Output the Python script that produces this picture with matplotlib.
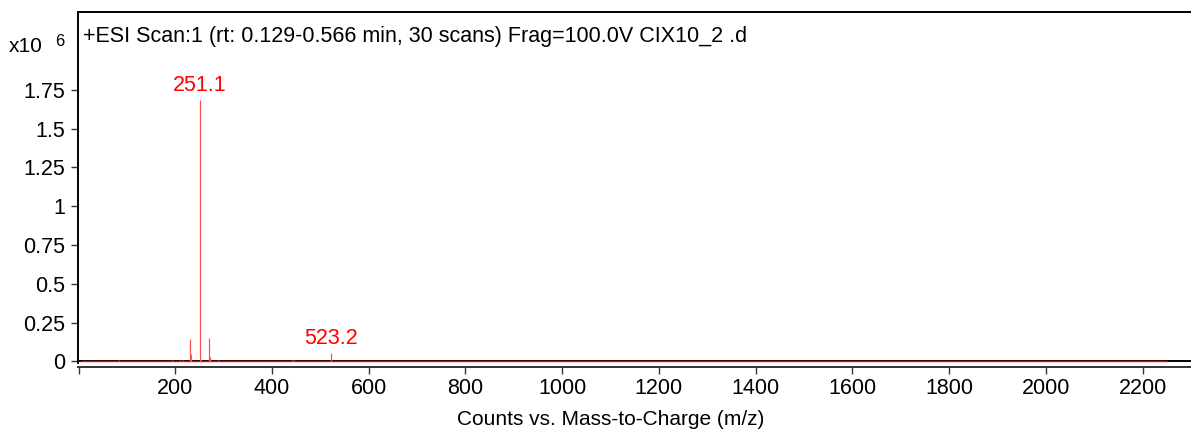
import matplotlib
matplotlib.use("Agg")
import matplotlib.pyplot as plt
from matplotlib.ticker import FixedLocator, FuncFormatter

# ---- data (intensity in units of 10^6 counts) ----
peak_mz = [85, 144, 194, 210, 216, 231, 234, 251.1, 254, 271, 273, 288, 442, 445, 523.2]
peak_int = [0.012, 0.006, 0.012, 0.010, 0.008, 0.142, 0.050, 1.686, 0.012, 0.150, 0.030, 0.010, 0.012, 0.008, 0.054]
label_mz = [251.1, 523.2]
label_text = ["251.1", "523.2"]
baseline_range = [5, 2250]
x_ticks = [200, 400, 600, 800, 1000, 1200, 1400, 1600, 1800, 2000, 2200]
y_ticks = [0, 0.25, 0.5, 0.75, 1.0, 1.25, 1.5, 1.75]
title_text = "+ESI Scan:1 (rt: 0.129-0.566 min, 30 scans) Frag=100.0V CIX10_2 .d"
x_label = "Counts vs. Mass-to-Charge (m/z)"

plt.rcParams['font.family'] = ['Liberation Sans', 'DejaVu Sans']

W, H = 1191, 440
fig = plt.figure(figsize=(W / 100, H / 100), dpi=100)
left, right, top, bottom = 77.7, 1196, 11.7, 363
ax = fig.add_axes([left / W, 1 - bottom / H, (right - left) / W, (bottom - top) / H])

ax.set_xlim(-1, 2310)
ax.set_ylim(-0.01, 2.254)

# baseline
ax.axhline(0, color='black', lw=1.4, zorder=2)
ax.hlines(0.004, baseline_range[0], baseline_range[1], color='red', lw=1.0, zorder=3)
# sticks
ax.vlines(peak_mz, 0, peak_int, color='#ff5050', lw=0.9, zorder=3)

for mz, t in zip(label_mz, label_text):
    h = peak_int[peak_mz.index(mz)]
    ax.annotate(t, (mz, h), xytext=(0, 3), textcoords='offset points',
                ha='center', va='bottom', color='#ff0000', fontsize=15.5)

ax.text(0.0048, 0.928, title_text, transform=ax.transAxes, ha='left', va='center', fontsize=15.5)

ax.spines['right'].set_visible(False)
for s in ['left', 'top', 'bottom']:
    ax.spines[s].set_linewidth(1.4)
ax.spines['bottom'].set_position(('outward', 3))
ax.spines['bottom'].set_color('#333333')

ax.xaxis.set_major_locator(FixedLocator([2] + x_ticks))
ax.xaxis.set_major_formatter(FuncFormatter(lambda v, p: '' if v < 100 else f"{int(v)}"))
ax.yaxis.set_major_locator(FixedLocator(y_ticks))
ax.yaxis.set_major_formatter(FuncFormatter(lambda v, p: f"{v:g}"))
ax.tick_params(axis='both', labelsize=15.5, length=5, width=1, direction='out', color='#333333')
ax.tick_params(axis='y', pad=4)
ax.tick_params(axis='x', pad=3)

ax.set_xlabel(x_label, fontsize=15)
ax.xaxis.set_label_coords((611 - left) / (right - left), -(410 - bottom) / (bottom - top))

fig.text(9 / W, 1 - 46 / H, "x10", ha='left', va='center', fontsize=15)
fig.text(55 / W, 1 - 41 / H, "6", ha='left', va='center', fontsize=12)

fig.savefig("out.png", dpi=100)
